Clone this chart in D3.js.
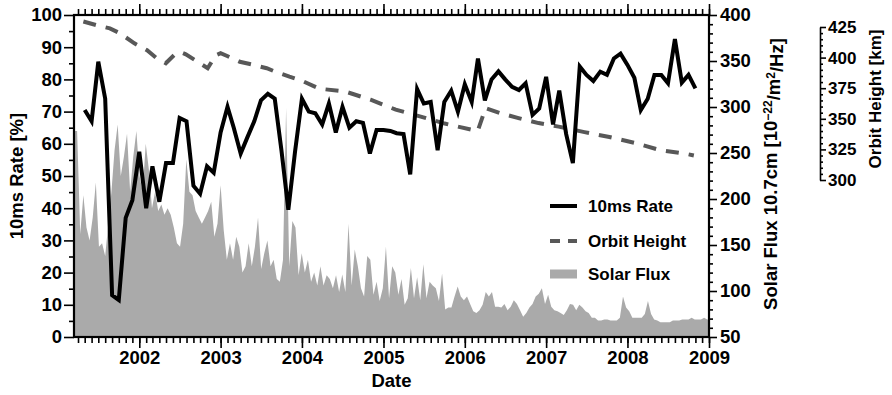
<!DOCTYPE html>
<html>
<head>
<meta charset="utf-8">
<script src="https://cdn.jsdelivr.net/npm/d3@7"></script>
<style>
  html, body { margin: 0; padding: 0; background: #fff; }
  svg { display: block; font-family: "Liberation Sans", Arial, Helvetica, sans-serif; font-weight: bold; }
</style>
</head>
<body>
<svg id="chart" width="892" height="395"></svg>
<script>
// ---- data -------------------------------------------------------------
// Monthly 10 ms rate [%], one value per month starting May 2001
const rateStart = "2001-05-01";
const rateValues = [
  70.5, 67, 85.5, 74, 13, 11.5, 37, 42.5,                        // 2001 May-Dec
  57.5, 40, 53, 42, 54, 54, 68, 67, 47, 44.5, 53, 51,            // 2002
  63.5, 71.5, 65, 57, 62, 67, 73.5, 75.5, 74, 58, 39.5, 57.5,    // 2003
  74, 70, 69.5, 66, 72.5, 63.5, 71.5, 65, 67, 66.5, 57, 64.3,    // 2004
  64.3, 64, 63.3, 63, 50.5, 77, 72.5, 73, 58, 73, 76.5, 70,      // 2005
  78.5, 73, 86.5, 73.5, 80, 82.5, 80, 77.7, 76.7, 78.8, 69, 71,  // 2006
  80.8, 66, 76.5, 63, 54, 84, 81.4, 79.5, 82.4, 81.4, 86.5, 88,  // 2007
  84.5, 80.5, 70.5, 74, 81.4, 81.4, 78.8, 92.5, 79, 81.4, 77.2   // 2008 Jan-Nov
];

// Orbit height [km] at the knots of the decay curve (incl. the 2002 and 2006 boosts)
const orbitDates = [
  "2001-04-25", "2001-06-25", "2001-08-22", "2001-10-06", "2001-12-10",
  "2002-02-05", "2002-03-25", "2002-04-30", "2002-06-10", "2002-07-06",
  "2002-07-29", "2002-09-16", "2002-11-04", "2002-12-10", "2003-01-01",
  "2003-02-02", "2003-03-28", "2003-05-25", "2003-07-27", "2003-09-10",
  "2003-11-06", "2003-12-26", "2004-03-20", "2004-07-15", "2004-11-04",
  "2005-02-25", "2005-06-17", "2005-10-03", "2006-01-28", "2006-02-28",
  "2006-04-04", "2006-06-10", "2006-08-30", "2006-11-28", "2007-02-26",
  "2007-06-22", "2007-10-12", "2008-02-05", "2008-05-24", "2008-09-24",
  "2008-10-25"
];
const orbitKm = [
  429.5, 426.4, 423.9, 419.9, 411.7,
  406, 398.7, 395.4, 402.7, 404.4,
  402.7, 397, 391.3, 401.9, 403.6,
  401.1, 396.6, 394.2, 391.3, 388,
  384.4, 381.5, 374.6, 372.2, 365.6,
  357.5, 351.8, 346.1, 341.2, 340,
  358.7, 354.6, 350.6, 346.5, 343.6,
  339.1, 335.1, 330.2, 324.5, 321.2,
  320
];

// Solar flux F10.7 [sfu], sampled every 14 days from 14 Mar 2001
const fluxStart = "2001-03-14";
const fluxStepDays = 14;
const fluxValues = [
  274, 274, 162, 204, 169, 155, 180, 218, 148, 152, 138, 173, 208, 253, 281, 225,
  246, 271, 208, 246, 274, 225, 208, 260, 232, 190, 208, 187, 194, 183, 190, 183,
  169, 152, 148, 173, 243, 208, 204, 187, 180, 173, 180, 187, 197, 159, 173, 215,
  166, 134, 152, 134, 159, 148, 120, 127, 152, 127, 148, 180, 124, 141, 155, 127,
  134, 113, 110, 134, 299, 127, 176, 169, 117, 141, 120, 134, 110, 120, 106, 127,
  106, 117, 113, 103, 117, 99, 118, 99, 173, 106, 145, 127, 103, 94, 138, 134,
  96, 110, 89, 103, 148, 92, 127, 120, 96, 113, 85, 92, 125, 92, 115, 90,
  129, 92, 110, 106, 103, 89, 119, 80, 82, 82, 94, 105, 94, 90, 94, 86,
  78, 76, 79, 85, 99, 94, 99, 83, 83, 82, 86, 79, 83, 90, 86, 79,
  72, 76, 82, 86, 94, 97, 103, 86, 96, 83, 79, 78, 76, 74, 79, 86,
  85, 79, 85, 82, 78, 76, 71, 71, 68, 68, 69, 69, 68, 68, 68, 71,
  94, 82, 78, 71, 71, 71, 71, 75, 89, 75, 69, 68, 66, 66, 66, 66,
  68, 68, 68, 69, 69, 69, 71, 69, 69, 69, 71, 69, 69
];

// Axis ticks
const yearTicks  = [2002, 2003, 2004, 2005, 2006, 2007, 2008, 2009];
const rateTicks  = [0, 10, 20, 30, 40, 50, 60, 70, 80, 90, 100];
const fluxTicks  = [50, 100, 150, 200, 250, 300, 350, 400];
const orbitTicks = [300, 325, 350, 375, 400, 425];

const legendItems = ["10ms Rate", "Orbit Height", "Solar Flux"];

// ---- layout -----------------------------------------------------------
const plot = { left: 74, right: 709, top: 15, bottom: 337 };
const orbitAxis = { x: 820, top: 27, bottom: 180 };
const tickFont = 18.5, legendFont = 17, orbitFont = 17;

const parse = d3.utcParse("%Y-%m-%d");
const rateData = rateValues.map((v, i) => ({ date: d3.utcMonth.offset(parse(rateStart), i), v }));
const orbitData = orbitDates.map((d, i) => ({ date: parse(d), v: orbitKm[i] }));
const fluxData = fluxValues.map((v, i) => ({ date: d3.utcDay.offset(parse(fluxStart), i * fluxStepDays), v }));

const x = d3.scaleUtc().domain([parse("2001-03-14"), parse("2009-01-01")]).range([plot.left, plot.right]);
const yRate = d3.scaleLinear().domain([0, 100]).range([plot.bottom, plot.top]);
const yFlux = d3.scaleLinear().domain([50, 400]).range([plot.bottom, plot.top]);
const yOrbit = d3.scaleLinear().domain([300, 425]).range([orbitAxis.bottom, orbitAxis.top]);

const svg = d3.select("#chart");
svg.append("rect").attr("width", 892).attr("height", 395).attr("fill", "#fff");

svg.append("clipPath").attr("id", "plotClip")
  .append("rect")
  .attr("x", plot.left).attr("y", plot.top)
  .attr("width", plot.right - plot.left).attr("height", plot.bottom - plot.top);

const data = svg.append("g").attr("clip-path", "url(#plotClip)");

// solar flux as filled area
data.append("path")
  .datum(fluxData)
  .attr("fill", "#aaaaaa")
  .attr("d", d3.area().x(d => x(d.date)).y0(plot.bottom).y1(d => yFlux(d.v)));

// orbit height, dashed
data.append("path")
  .datum(orbitData)
  .attr("fill", "none")
  .attr("stroke", "#585858")
  .attr("stroke-width", 4)
  .attr("stroke-dasharray", "13,10")
  .attr("d", d3.line().x(d => x(d.date)).y(d => yOrbit(d.v)));

// 10 ms rate
data.append("path")
  .datum(rateData)
  .attr("fill", "none")
  .attr("stroke", "#000")
  .attr("stroke-width", 4)
  .attr("stroke-linejoin", "miter")
  .attr("d", d3.line().x(d => x(d.date)).y(d => yRate(d.v)));

// ---- axes -------------------------------------------------------------
function styleAxis(g, fontSize) {
  g.attr("font-size", null).attr("font-family", null);
  g.select(".domain").remove();
  g.selectAll(".tick line").attr("stroke", "#000").attr("stroke-width", 1.6);
  g.selectAll(".tick text").attr("fill", "#000").style("font-size", fontSize + "px");
}

const yearDates = yearTicks.map(yv => new Date(Date.UTC(yv, 0, 1)));
const monthDates = d3.utcMonth.range(parse("2001-04-01"), parse("2009-01-02"));

// bottom
svg.append("g").attr("transform", `translate(0,${plot.bottom})`)
  .call(d3.axisBottom(x).tickValues(monthDates).tickSize(6).tickFormat(""))
  .call(g => styleAxis(g, tickFont));
svg.append("g").attr("transform", `translate(0,${plot.bottom})`)
  .call(d3.axisBottom(x).tickValues(yearDates).tickSize(11).tickPadding(3).tickFormat(d3.utcFormat("%Y")))
  .call(g => styleAxis(g, tickFont));
// top
svg.append("g").attr("transform", `translate(0,${plot.top})`)
  .call(d3.axisTop(x).tickValues(monthDates).tickSize(6).tickFormat(""))
  .call(g => styleAxis(g, tickFont));
svg.append("g").attr("transform", `translate(0,${plot.top})`)
  .call(d3.axisTop(x).tickValues(yearDates).tickSize(11).tickFormat(""))
  .call(g => styleAxis(g, tickFont));

// left
svg.append("g").attr("transform", `translate(${plot.left},0)`)
  .call(d3.axisLeft(yRate).tickValues(d3.range(5, 100, 10)).tickSize(5).tickFormat(""))
  .call(g => styleAxis(g, tickFont));
svg.append("g").attr("transform", `translate(${plot.left},0)`)
  .call(d3.axisLeft(yRate).tickValues(rateTicks).tickSize(10).tickPadding(2))
  .call(g => styleAxis(g, tickFont));

// right (solar flux)
svg.append("g").attr("transform", `translate(${plot.right},0)`)
  .call(d3.axisRight(yFlux).tickValues(d3.range(60, 400, 10).filter(v => v % 50 !== 0)).tickSize(4).tickFormat(""))
  .call(g => styleAxis(g, tickFont));
svg.append("g").attr("transform", `translate(${plot.right},0)`)
  .call(d3.axisRight(yFlux).tickValues(fluxTicks).tickSize(8).tickPadding(3))
  .call(g => styleAxis(g, tickFont));

// plot frame
svg.append("rect")
  .attr("x", plot.left).attr("y", plot.top)
  .attr("width", plot.right - plot.left).attr("height", plot.bottom - plot.top)
  .attr("fill", "none").attr("stroke", "#000").attr("stroke-width", 2.2);

// separate orbit height axis
const orbitG = svg.append("g").attr("transform", `translate(${orbitAxis.x},0)`);
orbitG.call(d3.axisRight(yOrbit).tickValues(d3.range(305, 425, 5).filter(v => v % 25 !== 0)).tickSize(3).tickFormat(""))
  .call(g => styleAxis(g, orbitFont));
const orbitMajor = svg.append("g").attr("transform", `translate(${orbitAxis.x},0)`)
  .call(d3.axisRight(yOrbit).tickValues(orbitTicks).tickSize(6).tickSizeOuter(0).tickPadding(2));
orbitMajor.attr("font-size", null).attr("font-family", null);
orbitMajor.select(".domain").attr("stroke", "#000").attr("stroke-width", 1.6);
orbitMajor.selectAll(".tick line").attr("stroke", "#000").attr("stroke-width", 1.6);
orbitMajor.selectAll(".tick text").attr("fill", "#000").style("font-size", orbitFont + "px");

// ---- titles -----------------------------------------------------------
svg.append("text")
  .attr("transform", `translate(23,${(plot.top + plot.bottom) / 2}) rotate(-90)`)
  .attr("text-anchor", "middle").style("font-size", tickFont + "px")
  .text("10ms Rate [%]");

svg.append("text")
  .attr("x", (plot.left + plot.right) / 2).attr("y", 387)
  .attr("text-anchor", "middle").style("font-size", tickFont + "px")
  .text("Date");

const fluxTitle = svg.append("text")
  .attr("transform", `translate(777,174) rotate(-90)`)
  .attr("text-anchor", "middle").style("font-size", tickFont + "px");
fluxTitle.append("tspan").text("Solar Flux 10.7cm [10");
fluxTitle.append("tspan").attr("dy", "-0.45em").style("font-size", "12px").text("−22");
fluxTitle.append("tspan").attr("dy", "0.45em").text("/m");
fluxTitle.append("tspan").attr("dy", "-0.45em").style("font-size", "12px").text("2");
fluxTitle.append("tspan").attr("dy", "0.45em").text("/Hz]");

svg.append("text")
  .attr("transform", `translate(881,99) rotate(-90)`)
  .attr("text-anchor", "middle").style("font-size", orbitFont + "px")
  .text("Orbit Height [km]");

// ---- legend -----------------------------------------------------------
const legend = svg.append("g");
const legendY = [206, 241, 274];
const lx0 = 550, lx1 = 577, tx = 588;
legend.append("line").attr("x1", lx0).attr("x2", lx1).attr("y1", legendY[0]).attr("y2", legendY[0])
  .attr("stroke", "#000").attr("stroke-width", 4);
legend.append("line").attr("x1", lx0).attr("x2", lx1).attr("y1", legendY[1]).attr("y2", legendY[1])
  .attr("stroke", "#585858").attr("stroke-width", 4).attr("stroke-dasharray", "10,8");
legend.append("rect").attr("x", lx0).attr("y", legendY[2] - 4.5).attr("width", lx1 - lx0).attr("height", 9)
  .attr("fill", "#aaaaaa");
legend.selectAll("text.leg").data(legendItems).join("text")
  .attr("class", "leg")
  .attr("x", tx).attr("y", (d, i) => legendY[i]).attr("dy", "0.36em")
  .style("font-size", legendFont + "px")
  .text(d => d);
</script>
</body>
</html>
